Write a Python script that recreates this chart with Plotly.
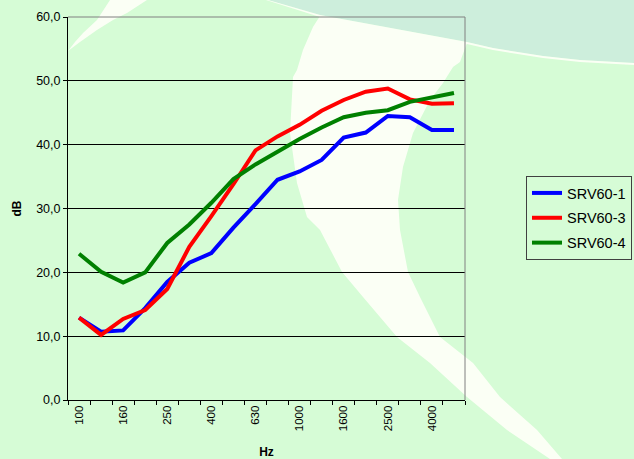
import plotly.graph_objects as go

# ---- data ----
frequencies = ["100", "125", "160", "200", "250", "315", "400", "500", "630",
               "800", "1000", "1250", "1600", "2000", "2500", "3150", "4000", "5000"]
srv60_1 = [12.9, 10.7, 10.9, 14.4, 18.5, 21.5, 23.0, 27.0, 30.7, 34.5, 35.8, 37.6,
           41.1, 41.9, 44.5, 44.3, 42.3, 42.3]
srv60_3 = [12.9, 10.2, 12.7, 14.1, 17.4, 24.0, 28.8, 33.8, 39.1, 41.3, 43.1, 45.3,
           47.0, 48.3, 48.8, 47.1, 46.4, 46.5]
srv60_4 = [22.9, 20.1, 18.4, 20.0, 24.6, 27.5, 30.9, 34.6, 36.9, 38.9, 40.9, 42.7,
           44.3, 45.0, 45.4, 46.7, 47.4, 48.1]
series_names = ["SRV60-1", "SRV60-3", "SRV60-4"]
series_colors = ["#0000ff", "#ff0000", "#008000"]
tick_labels = [f if i % 2 == 0 else "" for i, f in enumerate(frequencies)]

# ---- layout geometry ----
W, H = 634, 459
L, R, T, B = 68, 465, 17, 400
FONT = "Arial, 'Liberation Sans', sans-serif"


def px(x, y):
    return (x - L) / (R - L), (B - y) / (B - T)


def path(points):
    pts = [px(x, y) for x, y in points]
    return "M " + " L ".join(f"{a:.4f},{b:.4f}" for a, b in pts) + " Z"


fig = go.Figure()
for name, vals, col in zip(series_names, [srv60_1, srv60_3, srv60_4], series_colors):
    fig.add_trace(go.Scatter(x=frequencies, y=vals, name=name, mode="lines",
                             legendgroup=name,
                             line=dict(color=col, width=4)))

GREEN = "#d6fcd6"
TEAL = "#cdeedc"
WHITE = "#fbfff5"

shapes = []
# teal top-right region
shapes.append(dict(type="path", xref="paper", yref="paper", layer="below",
                   path=path([(268, 0), (634, 0), (634, 63), (580, 60), (543, 56),
                              (493, 48), (467, 42), (380, 26), (320, 15)]),
                   fillcolor=TEAL, line=dict(width=0)))
# white separator under teal
shapes.append(dict(type="path", xref="paper", yref="paper", layer="below",
                   path=path([(268, 0), (320, 15), (380, 26), (467, 42), (493, 48),
                              (543, 56), (580, 60), (634, 63), (634, 65), (580, 62),
                              (543, 58), (493, 50), (467, 44), (380, 28), (320, 17),
                              (266, 0)]),
                   fillcolor=WHITE, line=dict(width=0)))
# large white band
shapes.append(dict(type="path", xref="paper", yref="paper", layer="below",
                   path=path([(320, 16), (380, 27), (467, 43), (460, 62), (453, 67),
                              (443, 83), (430, 100), (413, 133), (403, 167),
                              (398, 200), (400, 230), (408, 272), (420, 297),
                              (440, 337), (473, 363), (500, 397), (537, 430),
                              (562, 459), (550, 459), (507, 430), (467, 397),
                              (430, 363), (397, 337), (363, 297), (342, 272),
                              (320, 230), (307, 217), (297, 183), (290, 133),
                              (293, 77), (297, 70), (303, 50), (313, 27)]),
                   fillcolor=WHITE, line=dict(width=0)))
# upper-left white crescent
shapes.append(dict(type="path", xref="paper", yref="paper", layer="below",
                   path=path([(110, 0), (147, 0), (127, 13), (113, 20), (97, 30),
                              (80, 42), (68, 51), (75, 42), (83, 33), (97, 20)]),
                   fillcolor=WHITE, line=dict(width=0)))
# gray top and right plot borders
shapes.append(dict(type="line", xref="paper", yref="paper", x0=0, x1=1, y0=1, y1=1,
                   layer="above", line=dict(color="#808080", width=1)))
shapes.append(dict(type="line", xref="paper", yref="paper", x0=1, x1=1, y0=0, y1=1,
                   layer="above", line=dict(color="#808080", width=1)))

fig.update_layout(
    width=W, height=H,
    margin=dict(l=L, r=W - R, t=T, b=H - B, autoexpand=False),
    paper_bgcolor=GREEN,
    plot_bgcolor="rgba(0,0,0,0)",
    separators=",.",
    font=dict(family=FONT, color="#000000", size=12),
    shapes=shapes,
    showlegend=True,
    legend=dict(x=(526 - L) / (R - L), y=(B - 176) / (B - T), xanchor="left",
                yanchor="top", bgcolor="rgba(0,0,0,0)", bordercolor="#404040",
                borderwidth=1, tracegroupgap=3,
                font=dict(size=14.5, family=FONT)),
    xaxis=dict(type="category", tickmode="array", tickvals=frequencies,
               ticktext=tick_labels, tickangle=-90, tickson="boundaries",
               range=[-0.5, len(frequencies) - 0.5],
               ticks="outside", ticklen=4, tickcolor="#000000",
               showline=True, linecolor="#000000", linewidth=1, showgrid=False,
               tickfont=dict(size=11.5, family=FONT),
               title=dict(text="<b>Hz</b>", font=dict(size=12, family=FONT),
                          standoff=17),
               automargin=False),
    yaxis=dict(range=[0, 60], dtick=10, tickformat=".1f", ticks="outside",
               ticklen=4, tickcolor="#000000", showline=True, linecolor="#000000",
               linewidth=1, showgrid=True, gridcolor="#000000", gridwidth=1,
               zeroline=False, tickfont=dict(size=12.5, family=FONT),
               title=dict(text="<b>dB</b>", font=dict(size=12, family=FONT),
                          standoff=11),
               automargin=False),
)

fig.write_html("out.html",
               config={"displayModeBar": False},
               post_script="document.body.style.margin='0';"
                           "document.body.style.padding='0';"
                           "document.body.style.background='" + GREEN + "';")
